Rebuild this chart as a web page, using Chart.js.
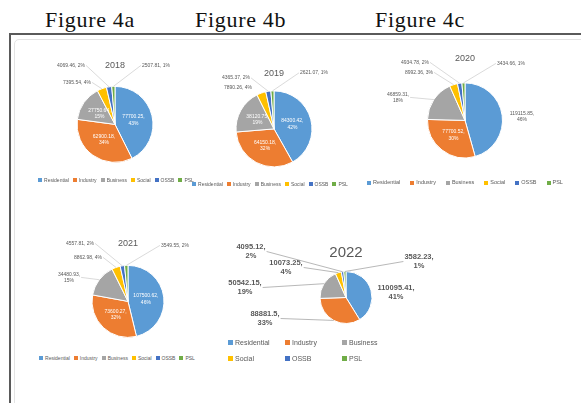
<!DOCTYPE html>
<html>
<head>
<meta charset="utf-8">
<script src="https://cdn.jsdelivr.net/npm/chart.js@4.4.1/dist/chart.umd.min.js"></script>
<style>
  body { margin: 0; width: 581px; height: 403px; overflow: hidden; background: #fff; position: relative; font-family: "Liberation Sans", Arial, sans-serif; }
  .fig { position: absolute; top: 9px; font: 22px/22px "Liberation Serif", "Times New Roman", serif; letter-spacing: 0.7px; color: #111; }
  .rule { position: absolute; left: 9px; top: 33px; width: 572px; height: 2px; background: #5a5a5a; }
  .side { position: absolute; left: 9px; top: 33px; width: 2px; height: 370px; background: #5a5a5a; }
  .inner { position: absolute; left: 14px; top: 39px; width: 580px; height: 380px; border: 1px solid #e4e4e4; border-radius: 5px; }
  canvas { position: absolute; }
  .legend { position: absolute; display: flex; justify-content: center; color: #595959; white-space: nowrap; }
  .legend .item { display: flex; align-items: center; }
  .legend .box { display: inline-block; margin-right: 2px; }
  .legend.grid { display: grid; justify-content: start; }
</style>
</head>
<body>
<div class="fig" style="left:45px">Figure 4a</div>
<div class="fig" style="left:195px">Figure 4b</div>
<div class="fig" style="left:375px">Figure 4c</div>
<div class="rule"></div>
<div class="side"></div>
<div class="inner"></div>

<script>
const categories = ["Residential", "Industry", "Business", "Social", "OSSB", "PSL"];
const years = ["2018", "2019", "2020", "2021", "2022"];

const values2018 = [77700.25, 62900.18, 27750.64, 7395.54, 4069.46, 2507.81];
const values2019 = [84300.42, 64150.18, 38120.75, 7890.26, 4365.37, 2621.07];
const values2020 = [119115.85, 77700.52, 46859.31, 8992.36, 4934.78, 3434.66];
const values2021 = [107500.62, 73600.27, 34480.93, 8862.98, 4557.81, 3549.55];
const values2022 = [110095.41, 88881.5, 50542.15, 10073.25, 4095.12, 3582.23];

const sliceColors = ["#5B9BD5", "#ED7D31", "#A5A5A5", "#FFC000", "#4472C4", "#70AD47"];

// where each pie sits on the page and how its labels are laid out
const layouts = [
    { title: years[0], values: values2018, cx: 114.5, cy: 124, r: 38, titleY: 65, titleSize: 9, width: 200, padTop: 0,
      label: { size: 5, bold: false, places: [null, null, null, [-38, -42], [-44, -59], [41, -59]], split: [1, 1, 1, 0, 0, 0] },
      legend: { y: 180, cx: 116, size: 5, gap: 4 } },
    { title: years[1], values: values2019, cx: 274, cy: 128.5, r: 38, titleY: 73, titleSize: 9, width: 200, padTop: 0,
      label: { size: 5, bold: false, places: [null, null, null, [-36, -41], [-38, -51], [40, -56]], split: [1, 1, 1, 0, 0, 0] },
      legend: { y: 184, cx: 270, size: 5, gap: 4 } },
    { title: years[2], values: values2020, cx: 464.5, cy: 120, r: 37.5, titleY: 58, titleSize: 9, width: 200, padTop: 0,
      label: { size: 5, bold: false, places: [[57, -4], null, [-67, -23], [-46, -48], [-50, -58], [46, -57]], split: [1, 1, 1, 0, 0, 0] },
      legend: { y: 183, cx: 465, size: 5.5, gap: 10 } },
    { title: years[3], values: values2021, cx: 127.5, cy: 301, r: 36, titleY: 243, titleSize: 9, width: 200, padTop: 0,
      label: { size: 5, bold: false, places: [null, null, [-59, -24], [-40, -44], [-48, -58], [47, -56]], split: [1, 1, 1, 0, 0, 0] },
      legend: { y: 358, cx: 117, size: 5, gap: 4 } },
    { title: years[4], values: values2022, cx: 345.5, cy: 297.5, r: 26, titleY: 253, titleSize: 15, width: 270, padTop: 15,
      label: { size: 7.5, bold: true, places: [[50, -5], [-81, 21], [-101, -10], [-60, -30], [-95, -46], [73, -36]], split: [1, 1, 1, 1, 1, 1] },
      legend: { y: 342, left: 228, size: 7, columns: 3, colWidth: 57, rowGap: 16 } }
];

const sliceLabels = {
    id: "sliceLabels",
    afterDatasetsDraw(chart, args, opts) {
        const ctx = chart.ctx;
        const data = chart.data.datasets[0].data;
        const total = data.reduce((a, b) => a + b, 0);
        const lineH = opts.size * 1.3;
        ctx.save();
        ctx.font = (opts.bold ? "bold " : "") + opts.size + 'px "Liberation Sans", Arial, sans-serif';
        ctx.textAlign = "center";
        ctx.textBaseline = "middle";
        chart.getDatasetMeta(0).data.forEach((arc, i) => {
            const p = arc.getProps(["x", "y", "startAngle", "endAngle", "outerRadius"], true);
            const mid = (p.startAngle + p.endAngle) / 2;
            const pct = Math.round(data[i] / total * 100) + "%";
            const lines = opts.split[i] ? [data[i] + ",", pct] : [data[i] + ", " + pct];
            const place = opts.places[i];
            let lx, ly;
            if (!place) {
                lx = p.x + Math.cos(mid) * p.outerRadius * 0.5;
                ly = p.y + Math.sin(mid) * p.outerRadius * 0.5;
                ctx.fillStyle = "#ffffff";
            } else {
                lx = p.x + place[0];
                ly = p.y + place[1];
                ctx.fillStyle = "#595959";
                const ex = p.x + Math.cos(mid) * p.outerRadius;
                const ey = p.y + Math.sin(mid) * p.outerRadius;
                const w = Math.max(...lines.map(t => ctx.measureText(t).width));
                const h = lineH * lines.length;
                let tx = lx, ty = ly + h / 2;
                if (Math.abs(ex - lx) > w / 2) {
                    tx = ex < lx ? lx - w / 2 - 1 : lx + w / 2 + 1;
                    ty = ly;
                }
                if (Math.hypot(tx - ex, ty - ey) > 10) {
                    ctx.strokeStyle = opts.bold ? "#a6a6a6" : "#d0d0d0";
                    ctx.lineWidth = 0.8;
                    ctx.beginPath();
                    ctx.moveTo(tx, ty);
                    ctx.lineTo(ex, ey);
                    ctx.stroke();
                }
            }
            lines.forEach((t, k) => {
                ctx.fillText(t, lx, ly + (k - (lines.length - 1) / 2) * lineH);
            });
        });
        ctx.restore();
    }
};

function makeLegend(chart, cfg) {
    const div = document.createElement("div");
    div.className = "legend" + (cfg.columns ? " grid" : "");
    div.style.fontSize = cfg.size + "px";
    div.style.lineHeight = cfg.size + "px";
    if (cfg.columns) {
        div.style.left = cfg.left + "px";
        div.style.top = (cfg.y - cfg.size / 2) + "px";
        div.style.gridTemplateColumns = `repeat(${cfg.columns}, ${cfg.colWidth}px)`;
        div.style.rowGap = (cfg.rowGap - cfg.size) + "px";
    } else {
        div.style.left = (cfg.cx - 150) + "px";
        div.style.width = "300px";
        div.style.top = (cfg.y - cfg.size / 2) + "px";
        div.style.columnGap = cfg.gap + "px";
    }
    const colors = chart.data.datasets[0].backgroundColor;
    chart.data.labels.forEach((name, i) => {
        const item = document.createElement("span");
        item.className = "item";
        const box = document.createElement("span");
        box.className = "box";
        const s = Math.round(cfg.size * 0.75);
        box.style.width = s + "px";
        box.style.height = s + "px";
        box.style.background = colors[i];
        item.appendChild(box);
        item.appendChild(document.createTextNode(name));
        div.appendChild(item);
    });
    document.body.appendChild(div);
}

layouts.forEach(cfg => {
    const canvas = document.createElement("canvas");
    const titleH = cfg.titleSize * 1.2;
    const top = cfg.titleY - titleH / 2 - cfg.padTop;
    const areaTop = top + cfg.padTop + titleH;
    const height = Math.round((areaTop - top) + 2 * (cfg.cy - areaTop));
    canvas.width = cfg.width;
    canvas.height = height;
    canvas.style.width = cfg.width + "px";
    canvas.style.height = height + "px";
    canvas.style.left = (cfg.cx - cfg.width / 2) + "px";
    canvas.style.top = top + "px";
    document.body.appendChild(canvas);

    const chart = new Chart(canvas.getContext("2d"), {
        type: "pie",
        data: {
            labels: categories,
            datasets: [{
                data: cfg.values,
                backgroundColor: sliceColors,
                borderColor: "#ffffff",
                borderWidth: 1,
                radius: cfg.r
            }]
        },
        options: {
            responsive: false,
            animation: false,
            devicePixelRatio: 1,
            layout: { padding: { top: cfg.padTop, left: 0, right: 0, bottom: 0 } },
            plugins: {
                legend: { display: false },
                tooltip: { enabled: false },
                title: {
                    display: true,
                    text: cfg.title,
                    color: "#595959",
                    padding: { top: 0, bottom: 0 },
                    font: { size: cfg.titleSize, family: '"Liberation Sans", Arial, sans-serif', weight: "normal" }
                },
                sliceLabels: cfg.label
            }
        },
        plugins: [sliceLabels]
    });
    makeLegend(chart, cfg.legend);
});
</script>
</body>
</html>
